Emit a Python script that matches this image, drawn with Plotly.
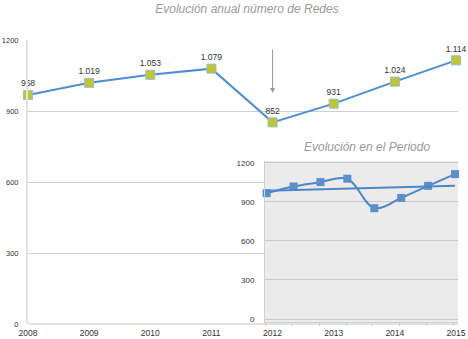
import numpy as np
import plotly.graph_objects as go

# Annual number of networks
years = [2008, 2009, 2010, 2011, 2012, 2013, 2014, 2015]
redes = [968, 1019, 1053, 1079, 852, 931, 1024, 1114]
y_ticks = [0, 300, 600, 900, 1200]

title_main = "Evolución anual número de Redes"
title_inset = "Evolución en el Periodo"

FONT = "Liberation Sans, Arial, sans-serif"
labels = [f"{v:,}".replace(",", ".") for v in redes]

# inset axis ranges (index positions and values)
INSET_X = [-0.06, 7.11]
INSET_Y = [-23, 1215]

fig = go.Figure()

# Main series: line with square markers and value labels
fig.add_trace(go.Scatter(
    x=years, y=redes, mode="lines+markers+text",
    text=labels, textposition="top center",
    textfont=dict(family=FONT, size=8.5, color="#333333"),
    line=dict(color="#4a8fd6", width=2),
    marker=dict(symbol="square", size=9, color="#c4c42c",
                line=dict(color="#8fc0d8", width=1)),
    cliponaxis=False, showlegend=False, xaxis="x", yaxis="y",
))

# Inset: smoothed series and linear trend over the same period
idx = np.arange(len(redes))
fig.add_trace(go.Scatter(
    x=idx, y=redes, mode="lines+markers",
    line=dict(color="#4f86c6", width=2, shape="spline", smoothing=1),
    marker=dict(symbol="square", size=8, color="#5a8fcd"),
    cliponaxis=False, showlegend=False, xaxis="x2", yaxis="y2",
))
slope, intercept = np.polyfit(idx, redes, 1)
trend = slope * idx + intercept
fig.add_trace(go.Scatter(
    x=[idx[0], idx[-1]], y=[trend[0], trend[-1]], mode="lines",
    line=dict(color="#4f86c6", width=2),
    showlegend=False, xaxis="x2", yaxis="y2", hoverinfo="skip",
))

fig.update_layout(
    width=468, height=339,
    margin=dict(l=28, r=10, t=40, b=15),
    paper_bgcolor="white", plot_bgcolor="white",
    font=dict(family=FONT, size=8, color="#333333"),
    title=dict(text=title_main, x=247 / 468, y=1 - 9 / 339,
               xanchor="center", yanchor="middle",
               font=dict(family=FONT, size=12, color="#9a9a9a", style="italic")),
    xaxis=dict(range=[2008, 2015.033], tickvals=years, ticktext=[str(y) for y in years],
               showgrid=False, zeroline=False, showline=False, automargin=False,
               ticks="", ticklabelstandoff=2,
               tickfont=dict(size=8.5, color="#333333")),
    yaxis=dict(range=[0, 1200], tickvals=y_ticks, automargin=False,
               showgrid=True, gridcolor="#cfcfcf", gridwidth=1,
               zeroline=True, zerolinecolor="#e2e2e2", zerolinewidth=2,
               showline=True, linecolor="#e2e2e2", linewidth=2,
               ticks="", ticklabelstandoff=6,
               tickfont=dict(size=7.5, color="#333333")),
    xaxis2=dict(domain=[237 / 430, 1.0], anchor="y2", range=INSET_X, automargin=False,
                showticklabels=False, showgrid=False, zeroline=False,
                showline=True, linecolor="#d0d0d0", linewidth=1,
                ticks="outside", ticklen=3, tickcolor="#d0d0d0",
                tickvals=[i - 0.05 for i in range(0, 8, 1)]),
    yaxis2=dict(domain=[(324 - 322) / 284, (324 - 161) / 284], anchor="x2",
                range=INSET_Y, tickvals=y_ticks, automargin=False,
                showgrid=True, gridcolor="#c9c9c9", gridwidth=1,
                zeroline=False, showline=True, linecolor="#d0d0d0", linewidth=1,
                ticks="", ticklabelstandoff=8,
                tickfont=dict(size=8, color="#333333")),
    shapes=[dict(type="rect", xref="x2", yref="y2",
                 x0=INSET_X[0], x1=INSET_X[1], y0=INSET_Y[0], y1=INSET_Y[1],
                 layer="below", fillcolor="#ebebeb", line=dict(width=0))],
    annotations=[
        dict(text=title_inset, xref="x2 domain", yref="paper",
             x=(367 - 265) / 193, y=(324 - 147) / 284, xanchor="center", yanchor="middle",
             showarrow=False,
             font=dict(family=FONT, size=12, color="#9a9a9a", style="italic")),
        dict(x=2012, y=976, ax=2012, ay=1166, xref="x", yref="y",
             axref="x", ayref="y", text="", showarrow=True,
             arrowhead=2, arrowsize=1, arrowwidth=1, arrowcolor="#9a9a9a"),
    ],
)

fig.write_html("out.html")
